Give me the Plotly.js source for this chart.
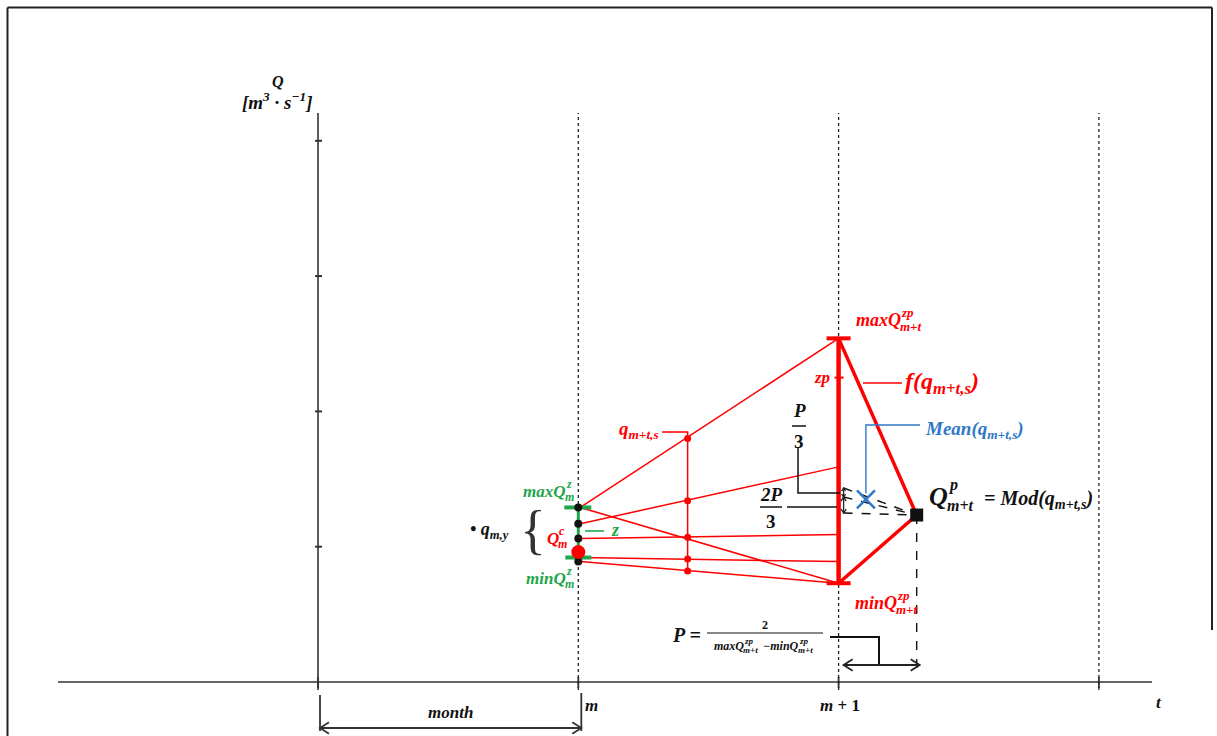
<!DOCTYPE html>
<html>
<head>
<meta charset="utf-8">
<script src="https://cdn.plot.ly/plotly-3.0.1.min.js"></script>
<style>html,body{margin:0;padding:0;background:#fff;}#chart{width:1217px;height:736px;}</style>
</head>
<body>
<div id="chart"></div>
<script>
// ---------- data (t in months, Q in axis units) ----------
const monthPos = [0, 1, 2, 3];            // y-axis origin, m, m+1, m+2
const monthLabels = ['', '<i>m</i>', '<i>m</i> + 1', ''];
const qTicks = [1, 2, 3, 4];
const yearlyQ = [1.29, 1.17, 1.06, 0.89]; // q_{m,y} black points at month m
const maxQzM = 1.29;                      // maxQ^z_m
const minQzM = 0.92;                      // minQ^z_m
const QcM = 0.96;                         // Q^c_m (red point)
const lineStartQ = [1.29, 1.17, 1.29, 1.06, 0.92, 0.89];
const lineEndQ   = [2.54, 1.59, 0.73, 1.09, 0.89, 0.73];
const midT = 1.42;                        // t of q_{m+t,s} points
const midQ = [1.80, 1.34, 1.07, 0.91, 0.82];
const maxQzp = 2.54, minQzp = 0.73, zpQ = 2.25;
const modeT = 2.30, modeQ = 1.234;        // Q^p_{m+t} = Mod
const meanT = 2.105, meanQ = 1.35;        // Mean(q_{m+t,s})
const thirdQ = [1.434, 1.367, 1.249];     // P/3 , 2P/3 division levels

// ---------- pixel helpers (layout only) ----------
const W = 1217, H = 736;
const PX0 = 318, PXM = 260.3, PY0 = 682, PYU = 135.3;
const xD = px => (px - PX0) / PXM;
const yD = py => (PY0 - py) / PYU;
const xP = t => PX0 + t * PXM;
const yP = q => PY0 - q * PYU;
const dx = p => p / PXM, dy = p => p / PYU;

const RED = '#ff0000', GREEN = '#1fa64a', BLUE = '#2e78c8', BLK = '#111111';
const F = 'Liberation Serif';

const traces = [];
function seg(xs, ys, color, width, dash) {
  traces.push({x: xs, y: ys, mode: 'lines', type: 'scatter', hoverinfo: 'skip',
    line: {color: color, width: width, dash: dash || 'solid'}, showlegend: false});
}
function pts(xs, ys, color, size, symbol, extra) {
  traces.push(Object.assign({x: xs, y: ys, mode: 'markers', type: 'scatter', hoverinfo: 'skip', showlegend: false,
    marker: {color: color, size: size, symbol: symbol || 'circle'}}, extra || {}));
}
// double-headed arrow drawn in pixel geometry
function dArrow(px1, py1, px2, py2, h, color, width) {
  const L = Math.hypot(px2 - px1, py2 - py1), ux = (px2 - px1) / L, uy = (py2 - py1) / L;
  const nx = -uy, ny = ux, w = h * 0.65;
  const xs = [xD(px1), xD(px2), null], ys = [yD(py1), yD(py2), null];
  xs.push(xD(px2 - ux * h + nx * w), xD(px2), xD(px2 - ux * h - nx * w), null);
  ys.push(yD(py2 - uy * h + ny * w), yD(py2), yD(py2 - uy * h - ny * w), null);
  xs.push(xD(px1 + ux * h + nx * w), xD(px1), xD(px1 + ux * h - nx * w));
  ys.push(yD(py1 + uy * h + ny * w), yD(py1), yD(py1 + uy * h - ny * w));
  seg(xs, ys, color, width);
}

// axes
seg([xD(58), xD(1152)], [0, 0], '#333', 1.6);
seg([0, 0], [yD(690), yD(113)], '#333', 1.6);
// y ticks
{ const xs = [], ys = [];
  qTicks.forEach(q => { xs.push(dx(-3), dx(4), null); ys.push(q, q, null); });
  seg(xs, ys, '#333', 2); }
// x ticks + dotted month lines
{ const xs = [], ys = [];
  monthPos.forEach(t => { xs.push(t, t, null); ys.push(dy(5), -dy(6), null); });
  seg(xs, ys, '#333', 1.8);
  const dxs = [], dys = [];
  monthPos.slice(1).forEach(t => { dxs.push(t, t, null); dys.push(-dy(8), yD(113), null); });
  seg(dxs, dys, '#222', 1.3, 'dot'); }

// thin red lines m -> m+1
{ const xs = [], ys = [];
  lineStartQ.forEach((q, i) => { xs.push(monthPos[1] + dx(2), monthPos[2], null); ys.push(q, lineEndQ[i], null); });
  seg(xs, ys, RED, 1.5); }
// q_{m+t,s} vertical + leader
seg([xD(662), midT, midT], [yD(432), yD(432), midQ[midQ.length - 1]], RED, 1.5);
pts(midQ.map(() => midT), midQ, RED, 7);

// thick red range at m+1
seg([monthPos[2], monthPos[2]], [minQzp, maxQzp], RED, 4.5);
seg([monthPos[2] - dx(12), monthPos[2] + dx(12), null, monthPos[2] - dx(12), monthPos[2] + dx(12)],
    [maxQzp, maxQzp, null, minQzp, minQzp], RED, 4);
seg([monthPos[2] - dx(4), monthPos[2] + dx(5)], [zpQ, zpQ], RED, 2);
// distribution f(q)
seg([monthPos[2], modeT, monthPos[2]], [maxQzp, modeQ, minQzp], RED, 3.5);
seg([xD(863), xD(902)], [yD(383), yD(383)], RED, 1.5);

// green range at m
seg([monthPos[1], monthPos[1]], [minQzM, maxQzM], GREEN, 3);
seg([monthPos[1] - dx(14), monthPos[1] + dx(13), null, monthPos[1] - dx(13), monthPos[1] + dx(13)],
    [maxQzM, maxQzM, null, minQzM, minQzM], GREEN, 4);
seg([xD(585), xD(604)], [yD(531), yD(531)], GREEN, 1.6);
pts(yearlyQ.map(() => monthPos[1]), yearlyQ, BLK, 8);
pts([monthPos[1]], [QcM], RED, 14);

// dashed construction lines to the mode
{ const xs = [], ys = [];
  thirdQ.forEach(q => { xs.push(monthPos[2] + dx(5), modeT, null); ys.push(q, modeQ, null); });
  xs.push(modeT, modeT); ys.push(modeQ, dy(14));
  seg(xs, ys, BLK, 1.4, 'dash'); }
// black leaders
seg([xD(798), xD(798), xD(840)], [yD(447), yD(493), yD(493)], BLK, 1.5);
seg([xD(787), xD(837)], [yD(507), yD(507)], BLK, 1.5);
seg([xD(830), xD(879), xD(879)], [yD(637), yD(637), yD(664)], BLK, 2);
// month bracket verticals
seg([0 + dx(2), 0 + dx(2), null, monthPos[1] + dx(3), monthPos[1] + dx(3)],
    [yD(695), yD(731), null, yD(693), yD(731)], '#333', 1.8);
// blue mean leader
seg([xD(920), meanT, meanT], [yD(425), yD(425), meanQ + dy(6)], BLUE, 1.4);

// arrows
dArrow(xP(0) + 2, 728, xP(1) + 3, 728, 9, '#333', 1.8);
dArrow(xP(2) + 5, 665, xP(modeT) + 3, 665, 9, '#222', 1.8);
dArrow(xP(2) + 5, yP(thirdQ[0]), xP(2) + 5, yP(thirdQ[1]), 3, '#222', 1.3);
dArrow(xP(2) + 5, yP(thirdQ[1]), xP(2) + 5, yP(thirdQ[2]), 4, '#222', 1.3);

// markers on top
pts([modeT], [modeQ], BLK, 13, 'square');
pts([meanT], [meanQ], BLUE, 18, 'x-thin-open', {marker: {size: 18, symbol: 'x-thin-open', line: {color: BLUE, width: 2.5}, color: BLUE}});

// ---------- annotations ----------
const ann = [];
function txt(text, px, py, size, color, xa, opts) {
  opts = opts || {};
  ann.push({x: xD(px), y: yD(py), xref: 'x', yref: 'y', text: text, showarrow: false,
    xanchor: xa || 'center', yanchor: 'middle', borderpad: 0,
    font: {family: F, size: size, color: color, weight: opts.weight || 'bold', style: opts.style || 'italic'}});
}
function stack(base, sup, sub, pxJoin, py, size, color, supSize) {
  const s = supSize || Math.round(size * 0.68);
  txt(base, pxJoin, py, size, color, 'right');
  txt(sup, pxJoin - 2, py - size * 0.42, s, color, 'left');
  txt(sub, pxJoin - 3, py + size * 0.36, s, color, 'left');
}

// axis titles / ticks
txt('Q', 278, 81, 16, BLK);
txt('[<i>m</i><sup>3</sup> · <i>s</i><sup>−1</sup>]', 277, 101, 19, BLK);
txt(monthLabels[1], 591, 705, 17, BLK);
txt(monthLabels[2], 840, 705, 17, BLK, 'center', {style: 'normal'});
txt('t', 1159, 702, 17, BLK);
txt('month', 450, 712, 17, BLK);

// labels at m+1
stack('maxQ', 'zp', 'm+t', 902, 320, 18, RED, 13);
stack('minQ', 'zp', 'm+t', 898, 603, 18, RED, 13);
txt('zp', 831, 377, 17, RED, 'right');
txt('f(q<sub>m+t,s</sub>)', 904, 383, 24, RED, 'left');
txt('Mean(q<sub>m+t,s</sub>)', 924, 430, 19, BLUE, 'left');
txt('q<sub>m+t,s</sub>', 660, 430, 19, RED, 'right');
stack('Q', 'p', 'm+t', 949, 496, 26, BLK, 16);
txt('= Mod(q<sub>m+t,s</sub>)', 983, 499, 20, BLK, 'left');

// labels at m
stack('maxQ', 'z', 'm', 567, 491, 17, GREEN, 12);
stack('minQ', 'z', 'm', 567, 578, 17, GREEN, 12);
stack('Q', 'c', 'm', 560, 538, 17, RED, 12);
txt('z', 610, 530, 18, GREEN, 'left');
txt('• q<sub>m,y</sub>', 489, 530, 18, BLK);
txt('{', 533, 530, 54, '#333', 'center', {weight: 'normal', style: 'normal'});

// fractions
txt('P', 799, 410, 19, BLK);
txt('3', 799, 441, 19, BLK, 'center', {style: 'normal'});
txt('2P', 771, 494, 19, BLK);
txt('3', 771, 521, 19, BLK, 'center', {style: 'normal'});
txt('P =', 686, 635, 20, BLK);
txt('2', 765, 625, 12, BLK, 'center', {style: 'normal'});
stack('maxQ', 'zp', 'm+t', 745, 646, 12, BLK, 9);
stack('−minQ', 'zp', 'm+t', 800, 646, 12, BLK, 9);

// shapes: fraction bars + frame
const shapes = [
  {type: 'line', xref: 'x', yref: 'y', x0: xD(792), x1: xD(806), y0: yD(426), y1: yD(426), line: {color: BLK, width: 1.5}},
  {type: 'line', xref: 'x', yref: 'y', x0: xD(760), x1: xD(782), y0: yD(507), y1: yD(507), line: {color: BLK, width: 1.5}},
  {type: 'line', xref: 'x', yref: 'y', x0: xD(707), x1: xD(823), y0: yD(633), y1: yD(633), line: {color: BLK, width: 1}},
  {type: 'line', xref: 'paper', yref: 'paper', x0: 7.5 / W, x1: 7.5 / W, y0: 0, y1: 1 - 7.5 / H, line: {color: '#222', width: 2}},
  {type: 'line', xref: 'paper', yref: 'paper', x0: 7.5 / W, x1: 1212 / W, y0: 1 - 7.5 / H, y1: 1 - 7.5 / H, line: {color: '#222', width: 2}},
  {type: 'line', xref: 'paper', yref: 'paper', x0: 1212 / W, x1: 1212 / W, y0: 1 - 7.5 / H, y1: 1 - 630 / H, line: {color: '#222', width: 2}}
];

const layout = {
  width: W, height: H, margin: {l: 0, r: 0, t: 0, b: 0},
  paper_bgcolor: '#fff', plot_bgcolor: '#fff', showlegend: false,
  xaxis: {range: [xD(0), xD(W)], visible: false, fixedrange: true},
  yaxis: {range: [yD(H), yD(0)], visible: false, fixedrange: true},
  annotations: ann, shapes: shapes
};
Plotly.newPlot('chart', traces, layout, {staticPlot: true, displayModeBar: false});
</script>
</body>
</html>
